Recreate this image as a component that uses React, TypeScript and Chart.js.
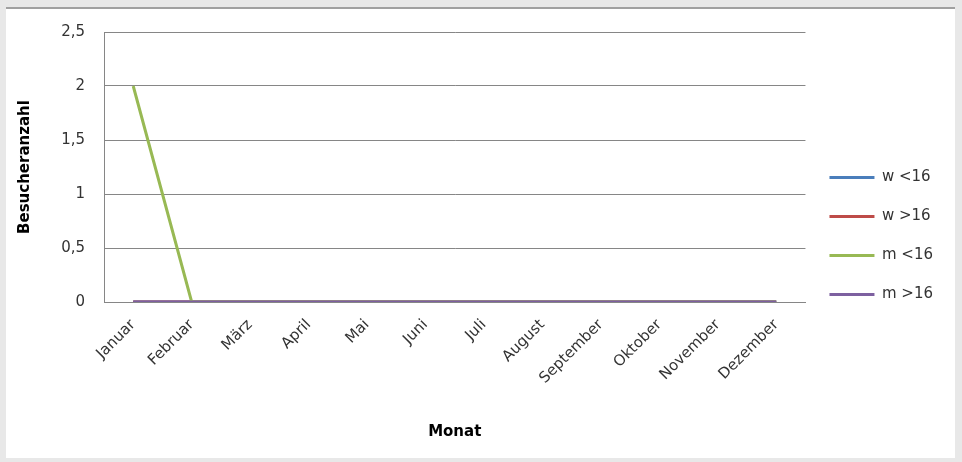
import React, { useEffect, useRef } from "react";
import { Chart, registerables } from "chart.js";

Chart.register(...registerables);

const months = [
  "Januar", "Februar", "März", "April", "Mai", "Juni",
  "Juli", "August", "September", "Oktober", "November", "Dezember",
];
const seriesNames = ["w <16", "w >16", "m <16", "m >16"];
const wUnder16 = [0, 0, 0, 0, 0, 0, 0, 0, 0, 0, 0, 0];
const wOver16 = [0, 0, 0, 0, 0, 0, 0, 0, 0, 0, 0, 0];
const mUnder16 = [2, 0, 0, 0, 0, 0, 0, 0, 0, 0, 0, 0];
const mOver16 = [0, 0, 0, 0, 0, 0, 0, 0, 0, 0, 0, 0];
const seriesColors = ["#4A7EBB", "#BE4B48", "#98B954", "#7D60A0"];
const yMin = 0;
const yMax = 2.5;
const yStep = 0.5;

const FONT = "'DejaVu Sans', 'Liberation Sans', sans-serif";

export default function App() {
  const canvasRef = useRef<HTMLCanvasElement | null>(null);

  useEffect(() => {
    const canvas = canvasRef.current;
    if (!canvas) return;
    const values = [wUnder16, wOver16, mUnder16, mOver16];
    const drawOrder = [3, 2, 1, 0];
    const chart = new Chart(canvas, {
      type: "line",
      data: {
        labels: months,
        datasets: values.map((v, i) => ({
          label: seriesNames[i],
          data: v,
          borderColor: seriesColors[i],
          backgroundColor: seriesColors[i],
          borderWidth: 3,
          pointRadius: 0,
          pointHoverRadius: 0,
          tension: 0,
          fill: false,
          order: drawOrder[i],
        })),
      },
      options: {
        animation: false,
        responsive: false,
        maintainAspectRatio: false,
        events: [],
        layout: { padding: { top: 23, left: 0, right: 12, bottom: 0 } },
        plugins: {
          tooltip: { enabled: false },
          title: { display: false },
          legend: {
            display: true,
            position: "right",
            align: "start",
            title: {
              display: true,
              text: "",
              font: { size: 10, lineHeight: 1.2 },
              padding: { top: 102, bottom: 0 },
            },
            labels: {
              usePointStyle: true,
              pointStyle: "line",
              pointStyleWidth: 45,
              boxHeight: 15,
              padding: 24,
              color: "#333333",
              font: { family: FONT, size: 15, lineHeight: 1 },
              sort: (a: any, b: any) => a.datasetIndex - b.datasetIndex,
            },
          },
        },
        scales: {
          x: {
            type: "category",
            offset: true,
            grid: { display: false, drawTicks: false },
            border: { display: true, color: "#868686", width: 1 },
            ticks: {
              autoSkip: false,
              minRotation: 45,
              maxRotation: 45,
              padding: 14,
              color: "#333333",
              font: { family: FONT, size: 15 },
            },
            title: {
              display: true,
              text: "Monat",
              color: "#000000",
              font: { family: FONT, size: 15, weight: "bold", lineHeight: 1.2 },
              padding: { top: 4, bottom: 17 },
            },
            afterFit: (scale: any) => {
              scale.height = 156;
              scale.paddingTop = 0;
            },
          },
          y: {
            type: "linear",
            min: yMin,
            max: yMax,
            grid: { display: true, color: "#868686", lineWidth: 1, drawTicks: false },
            border: { display: true, color: "#868686", width: 1 },
            ticks: {
              stepSize: yStep,
              padding: 19,
              color: "#333333",
              font: { family: FONT, size: 15 },
              callback: (v: any) => String(v).replace(".", ","),
            },
            title: {
              display: true,
              text: "Besucheranzahl",
              color: "#000000",
              font: { family: FONT, size: 15, weight: "bold", lineHeight: 1.2 },
              padding: { top: 10, bottom: 4 },
            },
            afterFit: (scale: any) => {
              scale.width = 98;
              scale.paddingTop = 0;
              scale.paddingBottom = 0;
            },
          },
        },
      },
    });
    return () => chart.destroy();
  }, []);

  return (
    <div
      style={{
        position: "absolute",
        left: 0,
        top: 0,
        width: 962,
        height: 462,
        background: "#e8e8e8",
        overflow: "hidden",
      }}
    >
      <div
        style={{
          position: "absolute",
          left: 6,
          top: 7,
          width: 949,
          height: 451,
          background: "#ffffff",
          borderTop: "2px solid #a0a0a0",
          boxSizing: "border-box",
        }}
      >
        <canvas
          ref={canvasRef}
          width={949}
          height={449}
          style={{ display: "block", width: 949, height: 449 }}
        />
      </div>
    </div>
  );
}
